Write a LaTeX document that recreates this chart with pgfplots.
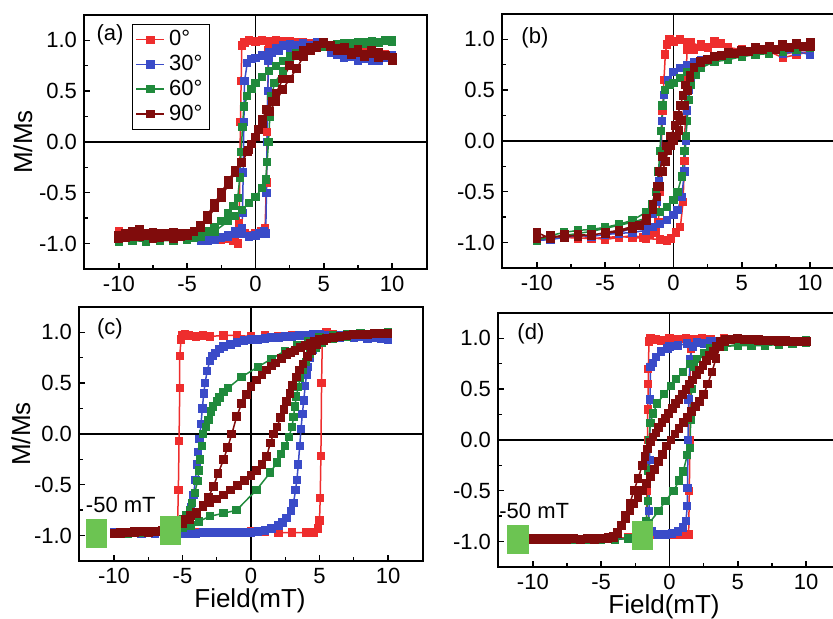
\documentclass[border=0pt]{standalone}
\usepackage{pgfplots}
\pgfplotsset{compat=1.18}
\usepackage{fontspec}
\setmainfont{Liberation Sans}
\definecolor{myred}{RGB}{238,45,45}
\definecolor{myblue}{RGB}{58,75,200}
\definecolor{mygreen}{RGB}{32,138,60}
\definecolor{mydark}{RGB}{128,12,12}
\definecolor{lgreen}{RGB}{108,196,82}
\pgfplotsset{
  panel/.style={
    scale only axis, width=171.5pt, height=127pt, anchor=south west,
    xmin=-12.55, xmax=12.55, ymin=-1.25, ymax=1.25,
    xtick={-10,-5,0,5,10}, xticklabels={-10,-5,0,5,10},
    ytick={-1,-0.5,0,0.5,1}, yticklabels={-1.0,-0.5,0.0,0.5,1.0},
    minor x tick num=1, minor y tick num=1,
    tick align=inside, tick pos=left,
    major tick length=3pt, minor tick length=1.8pt,
    tick style={black, line width=0.7pt},
    axis line style={line width=1pt},
    ticklabel style={font=\fontsize{11}{13}\selectfont},
  },
  s0/.style={color=myred, mark=square*, mark size=1.7pt, line width=0.75pt},
  s30/.style={color=myblue, mark=square*, mark size=1.7pt, line width=0.75pt},
  s60/.style={color=mygreen, mark=square*, mark size=1.7pt, line width=0.75pt},
  s90/.style={color=mydark, mark=square*, mark size=1.8pt, line width=0.75pt},
  gbox/.style={only marks, color=lgreen, mark=square*, mark size=7pt, mark options={xscale=0.72, rounded corners=1.2pt}},
}
\newcommand{\centerlines}{%
  \draw[line width=0.9pt] (axis cs:0,-1.25) -- (axis cs:0,1.25);
  \draw[line width=0.9pt] (axis cs:-12.55,0) -- (axis cs:12.55,0);}
\begin{document}
\begin{tikzpicture}
%% (a)
\begin{axis}[panel, at={(42pt,175pt)},
  ylabel={M/Ms},
  every axis y label/.style={at={(rel axis cs:-0.178,0.5)}, rotate=90, anchor=center, font=\fontsize{13}{15}\selectfont},
  legend style={at={(0.14,0.965)}, anchor=north west, draw=black, line width=0.6pt,
    font=\fontsize{11}{12}\selectfont, inner xsep=1.5pt, inner ysep=1pt, row sep=-0.8pt, cells={anchor=west}},
  legend image code/.code={\draw[line width=0.75pt, mark repeat=2, mark phase=2] plot coordinates {(0pt,0pt)(7pt,0pt)(14pt,0pt)};},
]
\centerlines
\addplot[s0] coordinates {(10,0.84)(9.5,0.86)(9,0.85)(8.5,0.88)(8,0.87)(7.5,0.9)(7,0.89)(6.5,0.92)(6,0.91)(5.5,0.94)(5,0.96)(4.5,0.97)(4,0.96)(3.5,0.98)(3,0.97)(2.5,0.99)(2,0.97)(1.5,0.98)(1,0.99)(0.5,1.0)(0,0.99)(-0.5,1.0)(-0.8,0.98)(-1.0,0.95)(-1.05,0.6)(-1.1,0.2)(-1.15,-0.3)(-1.2,-0.8)(-1.3,-1.0)(-1.6,-0.97)(-2,-0.95)(-2.5,-0.96)(-3,-0.93)(-3.5,-0.95)(-4,-0.92)(-5,-0.94)(-6,-0.92)(-7,-0.94)(-8,-0.91)(-9,-0.93)(-10,-0.88)
(-10,-0.9)(-9,-0.92)(-8,-0.93)(-7,-0.92)(-6,-0.94)(-5,-0.93)(-4,-0.95)(-3,-0.94)(-2,-0.93)(-1.2,-0.85)(-0.8,-0.9)(-0.4,-0.92)(0,-0.9)(0.4,-0.88)(0.7,-0.85)(0.8,-0.4)(0.85,0.1)(0.9,0.5)(0.95,0.9)(1.1,0.98)(1.5,1.0)(2,0.99)(3,0.98)(4,0.97)(5,0.96)(6,0.93)(7,0.9)(8,0.88)(9,0.86)(10,0.85)};
\addplot[s30] coordinates {(10,0.82)(9.5,0.85)(9,0.8)(8.5,0.83)(8,0.82)(7.5,0.8)(7,0.84)(6.5,0.83)(6,0.86)(5.5,0.88)(5,0.95)(4.5,0.96)(4,0.95)(3.5,0.97)(3,0.95)(2.5,0.96)(2,0.95)(1.5,0.92)(1,0.88)(0.5,0.85)(0,0.83)(-0.3,0.82)(-0.6,0.78)(-0.8,0.6)(-0.85,0.2)(-0.9,-0.3)(-0.95,-0.7)(-1.0,-0.85)(-1.2,-0.88)(-1.5,-0.9)(-2,-0.92)(-2.5,-0.94)(-3,-0.96)(-3.5,-0.97)(-4,-0.96)(-5,-0.95)(-6,-0.96)(-7,-0.95)(-8,-0.94)(-9,-0.96)(-10,-0.93)
(-10,-0.95)(-8,-0.96)(-6,-0.95)(-4,-0.97)(-3,-0.96)(-2,-0.93)(-1.5,-0.88)(-1,-0.9)(-0.5,-0.93)(0,-0.92)(0.3,-0.9)(0.6,-0.88)(0.75,-0.9)(0.8,-0.5)(0.85,0.0)(0.9,0.5)(0.95,0.8)(1.2,0.88)(1.7,0.9)(2.5,0.93)(3.5,0.96)(4.5,0.98)(5.5,0.92)(6.5,0.85)(7.5,0.83)(8.5,0.8)(9.5,0.83)(10,0.85)};
\addplot[s60] coordinates {(10,0.99)(9.5,1.0)(9,0.98)(8.5,0.99)(8,0.97)(7.5,0.98)(7,0.96)(6.5,0.97)(6,0.96)(5.5,0.95)(5,0.94)(4.5,0.93)(4,0.91)(3.5,0.89)(3,0.87)(2.5,0.84)(2,0.8)(1.5,0.75)(1,0.7)(0.5,0.64)(0,0.58)(-0.3,0.52)(-0.6,0.45)(-0.85,0.35)(-0.95,0.15)(-1.05,-0.1)(-1.15,-0.35)(-1.3,-0.55)(-1.6,-0.63)(-2,-0.7)(-2.5,-0.78)(-3,-0.84)(-3.5,-0.88)(-4,-0.92)(-4.5,-0.94)(-5,-0.95)(-6,-0.96)(-7,-0.97)(-8,-0.96)(-9,-0.97)(-10,-0.97)
(-10,-0.98)(-9,-0.97)(-8,-0.98)(-7,-0.97)(-6,-0.97)(-5,-0.96)(-4,-0.93)(-3,-0.88)(-2,-0.78)(-1.5,-0.73)(-1,-0.67)(-0.5,-0.6)(0,-0.54)(0.5,-0.45)(0.75,-0.37)(0.85,-0.2)(0.95,0.0)(1.05,0.25)(1.15,0.45)(1.4,0.58)(2,0.7)(2.5,0.8)(3,0.86)(3.5,0.9)(4,0.92)(5,0.95)(6,0.96)(7,0.97)(8,0.98)(9,0.98)(10,1.0)};
\addplot[s90] coordinates {(10,0.8)(9.5,0.85)(9,0.83)(8.5,0.87)(8,0.84)(7.5,0.88)(7,0.86)(6.5,0.9)(6,0.92)(5.5,0.95)(5,0.97)(4.5,0.95)(4,0.93)(3.5,0.9)(3,0.85)(2.5,0.75)(2,0.62)(1.5,0.48)(1.2,0.4)(0.8,0.32)(0.5,0.22)(0.2,0.12)(0,0.05)(-0.3,-0.02)(-0.6,-0.1)(-1,-0.2)(-1.5,-0.28)(-2,-0.38)(-2.5,-0.5)(-3,-0.6)(-3.5,-0.72)(-4,-0.82)(-4.5,-0.88)(-5,-0.9)(-5.5,-0.93)(-6,-0.89)(-6.5,-0.93)(-7,-0.9)(-7.5,-0.95)(-8,-0.9)(-8.5,-0.93)(-9,-0.88)(-9.5,-0.94)(-10,-0.92)
(-10,-0.95)(-9.5,-0.9)(-9,-0.93)(-8.5,-0.86)(-8,-0.92)(-7.5,-0.89)(-7,-0.94)(-6.5,-0.9)(-6,-0.95)(-5.5,-0.9)(-5,-0.92)(-4.5,-0.88)(-4,-0.84)(-3.5,-0.76)(-3,-0.65)(-2.5,-0.55)(-2,-0.42)(-1.5,-0.3)(-1,-0.2)(-0.5,-0.08)(0,0.05)(0.5,0.18)(1,0.3)(1.5,0.4)(2,0.52)(2.5,0.62)(3,0.72)(3.5,0.84)(4,0.9)(4.5,0.93)(5,0.98)(5.5,0.94)(6,0.9)(6.5,0.93)(7,0.88)(7.5,0.91)(8,0.86)(8.5,0.9)(9,0.88)(9.5,0.85)(10,0.83)};
\legend{0°,30°,60°,90°}
\node[font=\fontsize{11}{13}\selectfont] at (rel axis cs:0.076,0.92) {(a)};
\end{axis}
%% (b)
\begin{axis}[panel, at={(251pt,175.5pt)}]
\centerlines
\addplot[s0] coordinates {(10,0.88)(9,0.85)(8,0.82)(7,0.88)(6,0.9)(5,0.88)(4,0.92)(3.5,0.96)(3,0.98)(2.5,0.92)(2,0.95)(1.5,0.9)(1,0.97)(0.5,1.0)(0,0.98)(-0.3,1.0)(-0.5,0.95)(-0.6,0.85)(-0.7,0.6)(-0.8,0.3)(-0.9,-0.1)(-1.0,-0.5)(-1.1,-0.8)(-1.3,-0.9)(-1.7,-0.92)(-2.2,-0.95)(-3,-0.93)(-4,-0.95)(-5,-0.97)(-6,-0.95)(-7,-0.96)(-8,-0.94)(-9,-0.96)(-10,-0.95)
(-10,-0.97)(-8,-0.95)(-6,-0.96)(-4,-0.94)(-3,-0.95)(-2,-0.96)(-1,-0.97)(-0.5,-0.98)(-0.2,-0.96)(0.2,-0.9)(0.5,-0.85)(0.7,-0.6)(0.8,-0.2)(0.85,0.2)(0.9,0.6)(1.0,0.9)(1.3,0.97)(2,0.93)(3,0.96)(4,0.92)(5,0.9)(6,0.88)(7,0.9)(8,0.85)(9,0.88)(10,0.9)};
\addplot[s30] coordinates {(10,0.85)(9,0.88)(8,0.86)(7,0.87)(6,0.85)(5,0.84)(4,0.83)(3,0.82)(2,0.8)(1.5,0.78)(1,0.75)(0.5,0.72)(0,0.68)(-0.4,0.6)(-0.7,0.45)(-0.85,0.2)(-0.95,-0.1)(-1.05,-0.4)(-1.2,-0.6)(-1.5,-0.72)(-2,-0.8)(-3,-0.86)(-4,-0.9)(-5,-0.92)(-6,-0.94)(-7,-0.93)(-8,-0.95)(-9,-0.97)(-10,-0.98)
(-10,-0.96)(-9,-0.97)(-8,-0.95)(-7,-0.93)(-6,-0.94)(-5,-0.92)(-4,-0.91)(-3,-0.9)(-2,-0.88)(-1.5,-0.85)(-1,-0.82)(-0.5,-0.78)(0,-0.73)(0.3,-0.68)(0.6,-0.55)(0.8,-0.3)(0.9,0.0)(1.0,0.3)(1.1,0.5)(1.3,0.62)(1.6,0.7)(2,0.76)(3,0.82)(4,0.85)(5,0.87)(6,0.86)(7,0.88)(8,0.87)(9,0.9)(10,0.88)};
\addplot[s60] coordinates {(10,0.92)(9,0.9)(8,0.88)(7,0.86)(6,0.85)(5,0.83)(4,0.8)(3,0.78)(2,0.75)(1.5,0.72)(1,0.68)(0.5,0.62)(0,0.57)(-0.3,0.55)(-0.6,0.5)(-0.8,0.35)(-0.9,0.1)(-1.0,-0.1)(-1.1,-0.3)(-1.3,-0.5)(-1.6,-0.62)(-2,-0.7)(-3,-0.78)(-4,-0.82)(-5,-0.85)(-6,-0.87)(-7,-0.88)(-8,-0.9)(-9,-0.93)(-10,-0.98)
(-10,-0.97)(-9,-0.95)(-8,-0.93)(-7,-0.91)(-6,-0.89)(-5,-0.86)(-4,-0.83)(-3,-0.8)(-2,-0.76)(-1,-0.7)(-0.5,-0.65)(0,-0.58)(0.3,-0.5)(0.6,-0.35)(0.8,-0.1)(0.9,0.05)(1.0,0.2)(1.1,0.4)(1.3,0.55)(1.6,0.65)(2,0.72)(3,0.78)(4,0.82)(5,0.85)(6,0.86)(7,0.88)(8,0.9)(9,0.92)(10,0.93)};
\addplot[s90] coordinates {(10,0.97)(9.5,0.93)(9,0.96)(8.5,0.92)(8,0.95)(7.5,0.9)(7,0.93)(6.5,0.9)(6,0.92)(5.5,0.88)(5,0.89)(4.5,0.86)(4,0.87)(3.5,0.84)(3,0.83)(2.5,0.8)(2,0.77)(1.5,0.72)(1.2,0.62)(1.0,0.5)(0.8,0.35)(0.6,0.2)(0.4,0.1)(0.2,0.05)(0,0.0)(-0.2,-0.05)(-0.4,-0.1)(-0.6,-0.2)(-0.8,-0.3)(-1.0,-0.45)(-1.2,-0.55)(-1.5,-0.68)(-2,-0.78)(-2.5,-0.83)(-3,-0.86)(-4,-0.89)(-5,-0.91)(-6,-0.92)(-7,-0.94)(-8,-0.92)(-9,-0.96)(-10,-0.9)
(-10,-0.96)(-9,-0.93)(-8,-0.95)(-7,-0.92)(-6,-0.93)(-5,-0.9)(-4,-0.88)(-3,-0.84)(-2,-0.76)(-1.5,-0.62)(-1.2,-0.45)(-1.0,-0.3)(-0.8,-0.15)(-0.5,-0.05)(-0.2,0.05)(0.1,0.15)(0.3,0.25)(0.5,0.35)(0.7,0.45)(0.9,0.55)(1.2,0.65)(1.5,0.72)(2,0.78)(3,0.83)(4,0.86)(5,0.88)(6,0.9)(7,0.92)(8,0.93)(9,0.95)(10,0.93)};
\node[font=\fontsize{11}{13}\selectfont] at (rel axis cs:0.096,0.905) {(b)};
\end{axis}
%% (c)
\begin{axis}[panel, at={(39.5pt,29pt)}, width=172pt,
  ylabel={M/Ms}, xlabel={Field(mT)},
  every axis y label/.style={at={(rel axis cs:-0.169,0.5)}, rotate=90, anchor=center, font=\fontsize{13}{15}\selectfont},
  every axis x label/.style={at={(rel axis cs:0.497,-0.157)}, anchor=center, font=\fontsize{13}{15}\selectfont},
]
\centerlines
\addplot[s0] coordinates {(10,0.97)(9,0.97)(8,0.98)(7,0.97)(6,0.98)(5.5,0.99)(5,0.98)(4,0.97)(3,0.97)(2,0.96)(1,0.97)(0,0.96)(-1,0.97)(-2,0.97)(-3,0.96)(-3.5,0.97)(-4,0.96)(-4.5,0.97)(-4.8,0.98)(-5.0,0.97)(-5.1,0.93)(-5.2,0.77)(-5.2,0.45)(-5.25,-0.07)(-5.3,-0.55)(-5.35,-0.85)(-5.5,-0.96)(-6,-0.97)(-7,-0.97)(-8,-0.98)(-9,-0.97)(-10,-0.98)
(-10,-0.97)(-9,-0.98)(-8,-0.97)(-7,-0.97)(-6,-0.97)(-5,-0.96)(-4,-0.97)(-3,-0.97)(-2,-0.97)(-1,-0.97)(0,-0.96)(1,-0.96)(2,-0.97)(3,-0.97)(4,-0.97)(4.6,-0.97)(4.9,-0.93)(5.0,-0.85)(5.05,-0.63)(5.1,-0.22)(5.15,0.5)(5.2,0.9)(5.3,0.98)(5.5,1.0)(6,0.98)(7,0.97)(8,0.98)(9,0.97)(10,0.97)};
\addplot[s30] coordinates {(10,0.93)(9.5,0.94)(9,0.95)(8.5,0.95)(8,0.96)(7.5,0.96)(7,0.96)(6.5,0.97)(6,0.97)(5.5,0.97)(5,0.98)(4.5,0.98)(4,0.97)(3.5,0.97)(3,0.96)(2.5,0.96)(2,0.95)(1.5,0.95)(1,0.94)(0.5,0.93)(0,0.93)(-0.5,0.92)(-1,0.9)(-1.5,0.88)(-2,0.86)(-2.3,0.84)(-2.6,0.8)(-2.8,0.77)(-3.0,0.72)(-3.2,0.62)(-3.35,0.5)(-3.45,0.4)(-3.55,0.25)(-3.65,0.1)(-3.75,-0.05)(-3.85,-0.18)(-3.95,-0.3)(-4.05,-0.45)(-4.2,-0.6)(-4.4,-0.72)(-4.6,-0.82)(-4.9,-0.88)(-5.3,-0.93)(-5.8,-0.95)(-6.5,-0.96)(-7,-0.97)(-8,-0.97)(-9,-0.98)(-10,-0.97)
(-10,-0.97)(-9,-0.98)(-8,-0.98)(-7,-0.98)(-6,-0.98)(-5,-0.98)(-4.5,-0.98)(-4,-0.98)(-3.5,-0.97)(-3,-0.97)(-2.5,-0.97)(-2,-0.97)(-1.5,-0.97)(-1,-0.97)(-0.5,-0.97)(0,-0.97)(0.5,-0.96)(1,-0.95)(1.5,-0.93)(2,-0.9)(2.3,-0.87)(2.6,-0.83)(2.9,-0.76)(3.1,-0.68)(3.25,-0.55)(3.35,-0.45)(3.45,-0.3)(3.55,-0.12)(3.65,0.05)(3.75,0.2)(3.85,0.33)(3.95,0.47)(4.05,0.58)(4.15,0.66)(4.3,0.75)(4.5,0.83)(4.8,0.88)(5.2,0.92)(5.7,0.94)(6.5,0.95)(7.5,0.95)(8.5,0.94)(9.5,0.94)(10,0.93)};
\addplot[s60] coordinates {(10,1.0)(9,0.99)(8,0.99)(7,0.98)(6,0.97)(5,0.95)(4.2,0.91)(3.4,0.87)(2.5,0.82)(1.5,0.74)(0.5,0.66)(-0.7,0.56)(-1.7,0.45)(-2.0,0.41)(-2.3,0.36)(-2.5,0.32)(-2.75,0.27)(-2.9,0.22)(-3.1,0.14)(-3.3,0.07)(-3.5,0.0)(-3.6,-0.12)(-3.7,-0.25)(-3.8,-0.36)(-3.9,-0.46)(-4.1,-0.58)(-4.3,-0.68)(-4.45,-0.75)(-4.7,-0.8)(-4.95,-0.84)(-5.3,-0.9)(-5.7,-0.93)(-6.5,-0.95)(-7.5,-0.97)(-8.5,-0.97)(-10,-0.98)
(-10,-0.98)(-9,-0.98)(-8,-0.97)(-7,-0.96)(-6,-0.95)(-5,-0.92)(-4.4,-0.9)(-3.8,-0.86)(-3.0,-0.81)(-2,-0.78)(-1.05,-0.75)(0.4,-0.55)(1.4,-0.38)(1.9,-0.28)(2.2,-0.2)(2.5,-0.12)(2.75,-0.03)(3.0,0.07)(3.1,0.17)(3.2,0.27)(3.3,0.37)(3.45,0.46)(3.6,0.55)(3.8,0.63)(4.0,0.71)(4.3,0.79)(4.7,0.85)(5.2,0.9)(6,0.94)(7,0.96)(8,0.98)(9,0.99)(10,0.99)};
\addplot[s90] coordinates {(10,0.99)(9.5,0.99)(9,0.99)(8.5,0.98)(8,0.98)(7.5,0.98)(7,0.97)(6.5,0.96)(6,0.95)(5.5,0.94)(5,0.93)(4.6,0.91)(4.3,0.89)(4,0.87)(3.6,0.85)(3.2,0.82)(2.9,0.8)(2.6,0.78)(2.2,0.74)(1.8,0.7)(1.5,0.67)(1.15,0.63)(0.8,0.58)(0.4,0.53)(0,0.47)(-0.35,0.39)(-0.68,0.3)(-1.05,0.17)(-1.4,0.0)(-1.7,-0.13)(-2.0,-0.25)(-2.4,-0.39)(-2.75,-0.52)(-3.1,-0.62)(-3.5,-0.7)(-4,-0.78)(-4.5,-0.84)(-5,-0.88)(-5.5,-0.92)(-6,-0.95)(-6.5,-0.96)(-7,-0.96)(-7.5,-0.97)(-8,-0.96)(-8.5,-0.97)(-9,-0.97)(-9.5,-0.98)(-10,-0.98)
(-10,-0.98)(-9.5,-0.97)(-9,-0.97)(-8.5,-0.96)(-8,-0.96)(-7.5,-0.96)(-7,-0.96)(-6.5,-0.95)(-6,-0.94)(-5.6,-0.91)(-5.2,-0.88)(-4.8,-0.84)(-4.4,-0.8)(-4,-0.77)(-3.5,-0.72)(-3,-0.68)(-2.5,-0.64)(-2,-0.6)(-1.5,-0.55)(-1,-0.51)(-0.5,-0.46)(0,-0.41)(0.4,-0.36)(0.8,-0.3)(1.15,-0.22)(1.4,-0.09)(1.65,0.0)(1.9,0.07)(2.15,0.16)(2.4,0.24)(2.6,0.32)(2.85,0.4)(3.05,0.48)(3.3,0.56)(3.55,0.63)(3.8,0.69)(4.1,0.76)(4.4,0.82)(4.8,0.88)(5.3,0.92)(6,0.95)(7,0.97)(8,0.98)(9,0.99)(10,0.99)};
\addplot[gbox] coordinates {(-11.3,-0.98)(-5.88,-0.95)};
\node[font=\fontsize{11}{13}\selectfont] at (axis cs:-9.5,-0.70) {-50 mT};
\node[font=\fontsize{11}{13}\selectfont] at (rel axis cs:0.09,0.913) {(c)};
\end{axis}
%% (d)
\begin{axis}[panel, at={(249pt,26pt)},
  xlabel={Field(mT)},
  every axis x label/.style={at={(rel axis cs:0.484,-0.157)}, anchor=center, font=\fontsize{13}{15}\selectfont},
]
\centerlines
\addplot[s0] coordinates {(10,0.97)(9,0.97)(8,0.98)(7,0.97)(6,0.98)(5,0.98)(4,1.0)(3,0.99)(2.4,1.0)(1.8,0.99)(1.2,1.0)(0.6,0.99)(0,1.0)(-0.6,0.98)(-1.0,0.99)(-1.4,1.0)(-1.5,0.97)(-1.55,0.7)(-1.55,0.55)(-1.6,0.3)(-1.6,0.0)(-1.65,-0.5)(-1.7,-0.9)(-1.8,-0.96)(-2.5,-0.97)(-3,-0.97)(-4,-0.98)(-5,-0.97)(-6,-0.98)(-7,-0.97)(-8,-0.98)(-9,-0.97)(-10,-0.98)
(-10,-0.98)(-9,-0.97)(-8,-0.98)(-7,-0.97)(-6,-0.98)(-5,-0.97)(-4,-0.97)(-3,-0.96)(-2,-0.95)(-1.5,-0.93)(-1,-0.93)(-0.4,-0.93)(0.2,-0.93)(0.8,-0.93)(1.4,-0.93)(1.45,-0.5)(1.5,0.0)(1.5,0.5)(1.55,0.9)(1.7,0.98)(2,0.98)(3,0.98)(4,0.99)(5,0.98)(6,0.97)(7,0.98)(8,0.97)(9,0.97)(10,0.97)};
\addplot[s30] coordinates {(10,0.97)(9,0.97)(8,0.97)(7,0.98)(6,0.97)(5,0.98)(4,0.97)(3,0.97)(2,0.96)(1.3,0.95)(0.6,0.93)(0,0.92)(-0.15,0.9)(-0.6,0.87)(-1.0,0.82)(-1.2,0.76)(-1.4,0.72)(-1.42,0.4)(-1.45,-0.2)(-1.5,-0.7)(-1.55,-0.9)(-2,-0.95)(-3,-0.97)(-4,-0.97)(-5,-0.98)(-6,-0.97)(-7,-0.98)(-8,-0.97)(-9,-0.98)(-10,-0.98)
(-10,-0.98)(-9,-0.98)(-8,-0.97)(-7,-0.98)(-6,-0.97)(-5,-0.98)(-4,-0.97)(-3,-0.97)(-2,-0.95)(-1.3,-0.9)(-0.8,-0.93)(-0.3,-0.93)(0.2,-0.92)(0.6,-0.9)(1.0,-0.86)(1.2,-0.8)(1.3,-0.65)(1.32,-0.47)(1.35,0.0)(1.4,0.4)(1.5,0.8)(1.7,0.92)(2.5,0.95)(3.5,0.97)(5,0.97)(6,0.98)(7,0.97)(8,0.97)(9,0.97)(10,0.97)};
\addplot[s60] coordinates {(10,0.96)(9,0.95)(8,0.94)(7,0.93)(6,0.93)(5,0.93)(4,0.92)(3,0.9)(2.5,0.85)(2,0.8)(1.5,0.75)(1,0.67)(0.5,0.6)(0.1,0.53)(-0.4,0.45)(-0.9,0.36)(-1.2,0.26)(-1.4,0.17)(-1.5,0.0)(-1.55,-0.3)(-1.6,-0.6)(-1.7,-0.8)(-2,-0.92)(-3,-0.97)(-4,-0.98)(-5,-0.98)(-6,-0.98)(-7,-0.98)(-8,-0.98)(-9,-0.98)(-10,-0.98)
(-10,-0.98)(-9,-0.98)(-8,-0.98)(-7,-0.98)(-6,-0.98)(-5,-0.98)(-4,-0.98)(-3,-0.97)(-2,-0.9)(-1.5,-0.82)(-0.8,-0.7)(-0.3,-0.6)(0.3,-0.5)(0.7,-0.4)(1.0,-0.31)(1.3,-0.15)(1.5,-0.08)(1.55,0.2)(1.6,0.5)(1.8,0.72)(2.5,0.85)(3,0.88)(4,0.92)(5,0.94)(6,0.95)(7,0.95)(8,0.96)(9,0.97)(10,0.98)};
\addplot[s90] coordinates {(10,0.97)(9.5,0.97)(9,0.97)(8.5,0.98)(8,0.98)(7.5,0.98)(7,0.98)(6.5,0.99)(6,0.99)(5.5,0.99)(5,1.0)(4.5,0.99)(4.1,0.99)(3.7,0.97)(3.45,0.92)(3.2,0.87)(2.95,0.83)(2.7,0.78)(2.45,0.73)(2.2,0.69)(1.95,0.64)(1.7,0.59)(1.45,0.55)(1.2,0.5)(0.95,0.45)(0.7,0.4)(0.45,0.36)(0.2,0.31)(-0.05,0.26)(-0.3,0.21)(-0.55,0.17)(-0.8,0.12)(-1.0,0.07)(-1.2,0.03)(-1.4,-0.02)(-1.6,-0.09)(-1.8,-0.16)(-2.0,-0.25)(-2.3,-0.38)(-2.6,-0.5)(-2.9,-0.62)(-3.2,-0.74)(-3.5,-0.84)(-3.8,-0.92)(-4.1,-0.96)(-4.5,-0.97)(-5,-0.97)(-5.5,-0.98)(-6,-0.97)(-6.5,-0.98)(-7,-0.97)(-7.5,-0.98)(-8,-0.97)(-8.5,-0.98)(-9,-0.97)(-9.5,-0.98)(-10,-0.97)
(-10,-0.98)(-9.5,-0.97)(-9,-0.98)(-8.5,-0.97)(-8,-0.98)(-7.5,-0.97)(-7,-0.97)(-6.5,-0.98)(-6,-0.97)(-5.5,-0.97)(-5,-0.97)(-4.5,-0.96)(-4.1,-0.95)(-3.8,-0.91)(-3.5,-0.84)(-3.2,-0.77)(-2.9,-0.7)(-2.6,-0.63)(-2.3,-0.57)(-2.0,-0.5)(-1.7,-0.43)(-1.4,-0.36)(-1.1,-0.29)(-0.8,-0.21)(-0.5,-0.14)(-0.2,-0.06)(0.1,0.0)(0.4,0.06)(0.7,0.11)(1.0,0.17)(1.3,0.22)(1.6,0.28)(1.9,0.33)(2.2,0.38)(2.5,0.45)(2.8,0.55)(3.1,0.67)(3.4,0.8)(3.7,0.92)(4.0,0.97)(4.4,0.99)(5,1.0)(5.5,0.99)(6,0.99)(6.5,0.98)(7,0.98)(7.5,0.98)(8,0.97)(8.5,0.97)(9,0.97)(9.5,0.97)(10,0.97)};
\addplot[gbox] coordinates {(-11.1,-0.975)(-2.0,-0.94)};
\node[font=\fontsize{11}{13}\selectfont] at (axis cs:-9.9,-0.70) {-50 mT};
\node[font=\fontsize{11}{13}\selectfont] at (rel axis cs:0.096,0.92) {(d)};
\end{axis}
\pgfresetboundingbox
\useasboundingbox (0,0) rectangle (416.5pt,309.5pt);
\end{tikzpicture}
\end{document}
